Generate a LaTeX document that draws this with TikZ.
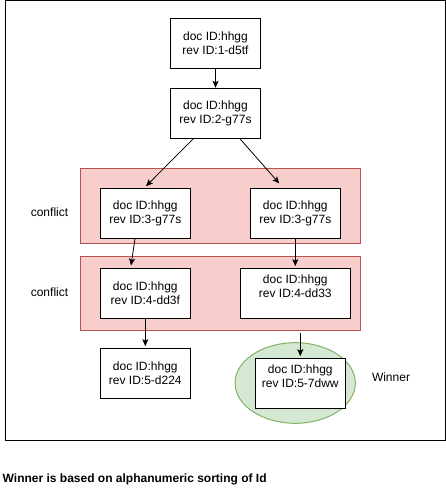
\documentclass[tikz,border=0pt]{standalone}
\usepackage{fontspec}
\setmainfont{Liberation Sans}
\usetikzlibrary{arrows.meta,shapes.geometric,calc}
\definecolor{cfill}{HTML}{F8CECC}
\definecolor{cdraw}{HTML}{B85450}
\definecolor{gfill}{HTML}{D5E8D4}
\definecolor{gdraw}{HTML}{82B366}
\tikzset{
  docbox/.style={draw=black,fill=white,line width=1pt,minimum width=90pt,minimum height=50pt,inner sep=0pt,align=center,font=\fontsize{12}{14}\selectfont},
  doctxt/.style={inner sep=0pt,align=center,font=\fontsize{12}{14}\selectfont},
  conflictbox/.style={draw=cdraw,fill=cfill,line width=1pt,minimum width=280.4pt,inner sep=0pt},
  winarea/.style={ellipse,draw=gdraw,fill=gfill,line width=1pt,minimum width=120.3pt,minimum height=80.6pt,inner sep=0pt},
  lbl/.style={inner sep=0pt,font=\fontsize{12}{14}\selectfont},
  conn/.style={draw=black,line width=0.8pt,-{Stealth[length=7pt,width=6pt,inset=1.5pt]}}
}
\begin{document}
\begin{tikzpicture}[x=1pt,y=-1pt]
\useasboundingbox (0,0) rectangle (446,492);
\node[draw=black,line width=1pt,minimum width=440pt,minimum height=439pt,inner sep=0pt] (frame) at (225.5,220.5) {};
\node[conflictbox,minimum height=75pt] (r1) at (220.5,205.8) {};
\node[conflictbox,minimum height=74.3pt] (r2) at (220.5,293.8) {};
\node[winarea] (win) at (295.2,383) {};
\node[docbox] (n1) at (215.5,43.3) {doc ID:hhgg\\rev ID:1-d5tf};
\node[docbox] (n2) at (215.5,113.3) {doc ID:hhgg\\rev ID:2-g77s};
\node[docbox] (n3l) at (145.3,213.3) {doc ID:hhgg\\rev ID:3-g77s};
\node[docbox] (n3r) at (295.3,213.3) {doc ID:hhgg\\rev ID:3-g77s};
\node[docbox] (n4l) at (145.3,293.3) {doc ID:hhgg\\rev ID:4-dd3f};
\node[docbox,minimum width=110pt] (n4r) at (295.3,293.3) {};
\node[doctxt] (t4r) at ([yshift=7pt]n4r.center) {doc ID:hhgg\\rev ID:4-dd33};
\node[docbox] (n5l) at (145.3,373.3) {doc ID:hhgg\\rev ID:5-d224};
\node[docbox] (n5r) at (300.3,383.3) {};
\node[doctxt] (t5r) at ([yshift=7.5pt]n5r.center) {doc ID:hhgg\\rev ID:5-7dww};
\node[lbl] (c1) at (49.5,212) {conflict};
\node[lbl] (c2) at (49.5,292) {conflict};
\node[lbl] (w) at (391,377) {Winner};
\node[lbl,anchor=west,font=\fontsize{12}{14}\selectfont\bfseries] (note) at (2.5,479.5) {Winner is based on alphanumeric sorting of Id};
\draw[conn] (n1.south) -- (n2.north);
\draw[conn] ([xshift=-22.2pt]n2.south) -- ([xshift=0.7pt,yshift=1.6pt]n3l.north);
\draw[conn] ([xshift=24.5pt]n2.south) -- ([xshift=-16pt,yshift=4.3pt]n3r.north);
\draw[conn] ([xshift=-10.3pt]n3l.south) -- ([xshift=-14.3pt,yshift=2.3pt]n4l.north);
\draw[conn] (n3r.south) -- ([yshift=1.6pt]n4r.north);
\draw[conn] (n4l.south) -- ([yshift=1.6pt]n5l.north);
\coordinate (s5) at ($(r2.south -| n5r.north)+(0,2)$);
\draw[conn] (s5) -- ([yshift=1.6pt]n5r.north);
\end{tikzpicture}
\end{document}
